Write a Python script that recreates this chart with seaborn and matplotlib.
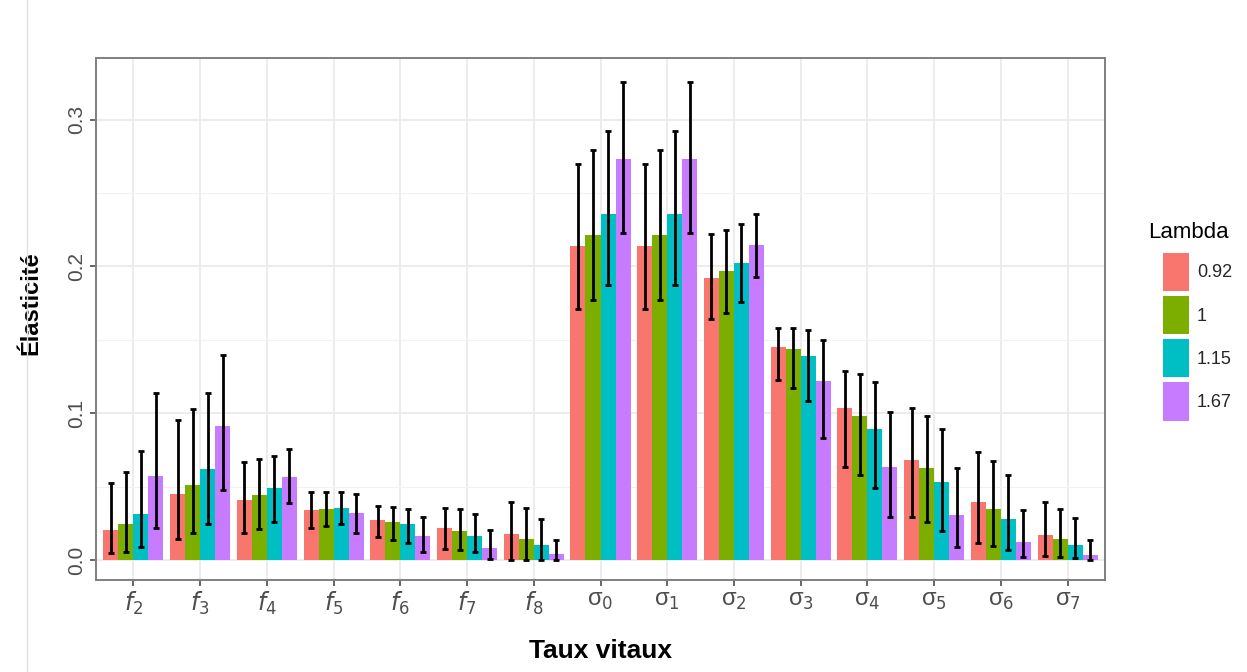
import numpy as np
import pandas as pd
import matplotlib
matplotlib.use("Agg")
import matplotlib.pyplot as plt
import seaborn as sns
from matplotlib.patches import Patch
from matplotlib.lines import Line2D

categories = ["f2", "f3", "f4", "f5", "f6", "f7", "f8",
              "s0", "s1", "s2", "s3", "s4", "s5", "s6", "s7"]
tick_labels = [r"$f_2$", r"$f_3$", r"$f_4$", r"$f_5$", r"$f_6$", r"$f_7$", r"$f_8$",
               "σ$_0$", "σ$_1$", "σ$_2$", "σ$_3$", "σ$_4$", "σ$_5$", "σ$_6$", "σ$_7$"]
lambdas = ["0.92", "1", "1.15", "1.67"]
colors = ["#F8766D", "#7CAE00", "#00BFC4", "#C77CFF"]

val_092 = [0.0204, 0.0450, 0.0409, 0.0341, 0.0273, 0.0219, 0.0174, 0.2136, 0.2136, 0.1924, 0.1454, 0.1034, 0.0682, 0.0398, 0.0170]
val_1   = [0.0243, 0.0511, 0.0443, 0.0345, 0.0257, 0.0196, 0.0145, 0.2215, 0.2215, 0.1966, 0.1436, 0.0984, 0.0625, 0.0348, 0.0141]
val_115 = [0.0313, 0.0618, 0.0489, 0.0352, 0.0243, 0.0162, 0.0105, 0.2356, 0.2356, 0.2022, 0.1393, 0.0893, 0.0534, 0.0277, 0.0102]
val_167 = [0.0575, 0.0913, 0.0568, 0.0318, 0.0164, 0.0083, 0.0039, 0.2731, 0.2731, 0.2143, 0.1220, 0.0636, 0.0307, 0.0125, 0.0034]

up_092 = [0.0527, 0.0954, 0.0670, 0.0461, 0.0370, 0.0357, 0.0395, 0.2700, 0.2700, 0.2222, 0.1580, 0.1288, 0.1034, 0.0734, 0.0393]
up_1   = [0.0600, 0.1027, 0.0689, 0.0461, 0.0364, 0.0345, 0.0353, 0.2790, 0.2790, 0.2245, 0.1580, 0.1266, 0.0982, 0.0675, 0.0348]
up_115 = [0.0743, 0.1140, 0.0711, 0.0461, 0.0348, 0.0316, 0.0282, 0.2920, 0.2920, 0.2288, 0.1568, 0.1216, 0.0893, 0.0580, 0.0284]
up_167 = [0.1140, 0.1397, 0.0757, 0.0448, 0.0295, 0.0203, 0.0134, 0.3256, 0.3256, 0.2356, 0.1500, 0.1007, 0.0625, 0.0341, 0.0136]

lo_092 = [0.0046, 0.0141, 0.0186, 0.0216, 0.0159, 0.0077, 0.0000, 0.1709, 0.1709, 0.1640, 0.1227, 0.0636, 0.0295, 0.0118, 0.0027]
lo_1   = [0.0057, 0.0182, 0.0209, 0.0234, 0.0136, 0.0069, 0.0000, 0.1772, 0.1772, 0.1686, 0.1170, 0.0580, 0.0257, 0.0095, 0.0023]
lo_115 = [0.0091, 0.0243, 0.0261, 0.0243, 0.0114, 0.0053, 0.0000, 0.1875, 0.1875, 0.1757, 0.1080, 0.0489, 0.0200, 0.0068, 0.0011]
lo_167 = [0.0216, 0.0477, 0.0391, 0.0182, 0.0057, 0.0010, 0.0000, 0.2227, 0.2227, 0.1931, 0.0834, 0.0295, 0.0091, 0.0018, 0.0000]

values = [val_092, val_1, val_115, val_167]
uppers = [up_092, up_1, up_115, up_167]
lowers = [lo_092, lo_1, lo_115, lo_167]

rows = []
for lam, v, u, l in zip(lambdas, values, uppers, lowers):
    for c, vv, uu, ll in zip(categories, v, u, l):
        rows.append({"cat": c, "Lambda": lam, "val": vv, "up": uu, "lo": ll})
df = pd.DataFrame(rows)

sns.set_theme(style="white")
plt.rcParams["font.family"] = ["Liberation Sans", "DejaVu Sans"]
plt.rcParams["mathtext.fontset"] = "dejavusans"

fig = plt.figure(figsize=(12.47, 6.72), dpi=100)
ax = fig.add_axes([96 / 1247, 1 - 580 / 672, (1105 - 96) / 1247, (580 - 58) / 672])

sns.barplot(data=df, x="cat", y="val", hue="Lambda", order=categories,
            hue_order=lambdas, palette=colors, width=0.9, saturation=1,
            errorbar=None, ax=ax, legend=False, linewidth=0, zorder=2)

for container, lam in zip(ax.containers, lambdas):
    sub = df[df["Lambda"] == lam].set_index("cat").loc[categories]
    xs = [b.get_x() + b.get_width() / 2 for b in container]
    ax.vlines(xs, sub["lo"].values, sub["up"].values, colors="black", lw=2.0, zorder=3)
    ax.scatter(xs, sub["up"].values, marker="_", s=14, c="black", linewidths=2, zorder=3)
    ax.scatter(xs, sub["lo"].values, marker="_", s=14, c="black", linewidths=2, zorder=3)

ax.set_xlim(-0.56, len(categories) - 1 + 0.56)
ax.set_ylim(-0.0136, 0.342)
ax.set_yticks([0.0, 0.1, 0.2, 0.3])
ax.set_yticklabels(["0.0", "0.1", "0.2", "0.3"], rotation=90, va="center",
                   fontsize=15, color="#4D4D4D")
ax.set_yticks([0.05, 0.15, 0.25], minor=True)
ax.set_xticks(range(len(categories)))
ax.set_xticklabels(tick_labels, fontsize=17, color="#4D4D4D")

ax.grid(True, which="major", color="#EBEBEB", lw=1.3, zorder=0)
ax.grid(True, which="minor", axis="y", color="#F2F2F2", lw=0.8, zorder=0)
ax.set_axisbelow(True)
for s in ax.spines.values():
    s.set_color("#7F7F7F")
    s.set_linewidth(1.4)
ax.tick_params(axis="both", which="major", length=4, width=1.2, color="#4D4D4D",
               direction="out", bottom=True, left=True, pad=3)
ax.tick_params(axis="y", which="minor", length=0)

ax.set_xlabel("Taux vitaux", fontsize=19, fontweight="bold", color="black")
ax.set_ylabel("Élasticité", fontsize=17, fontweight="bold", color="black")
ax.xaxis.set_label_coords(0.5, -(651 - 580) / 522)
ax.yaxis.set_label_coords(-(96 - 31) / 1009, 0.53)
ax.xaxis.label.set_va("center")
ax.yaxis.label.set_va("center")

fig.text(1148 / 1247, 1 - 233 / 672, "Lambda", fontsize=16, color="black",
         ha="left", va="center")
handles = [Patch(facecolor=c, edgecolor="none") for c in colors]
leg = fig.legend(handles, lambdas, loc="upper left",
                 bbox_to_anchor=(1163 / 1247, 1 - 253 / 672), frameon=False,
                 fontsize=13, handlelength=1.44, handleheight=2.87,
                 labelspacing=0.28, handletextpad=0.45, borderpad=0,
                 borderaxespad=0)

fig.add_artist(Line2D([27 / 1247, 27 / 1247], [0.0, 1.0], color="#E0E0E0", lw=1))

fig.savefig("out.png", dpi=100)
